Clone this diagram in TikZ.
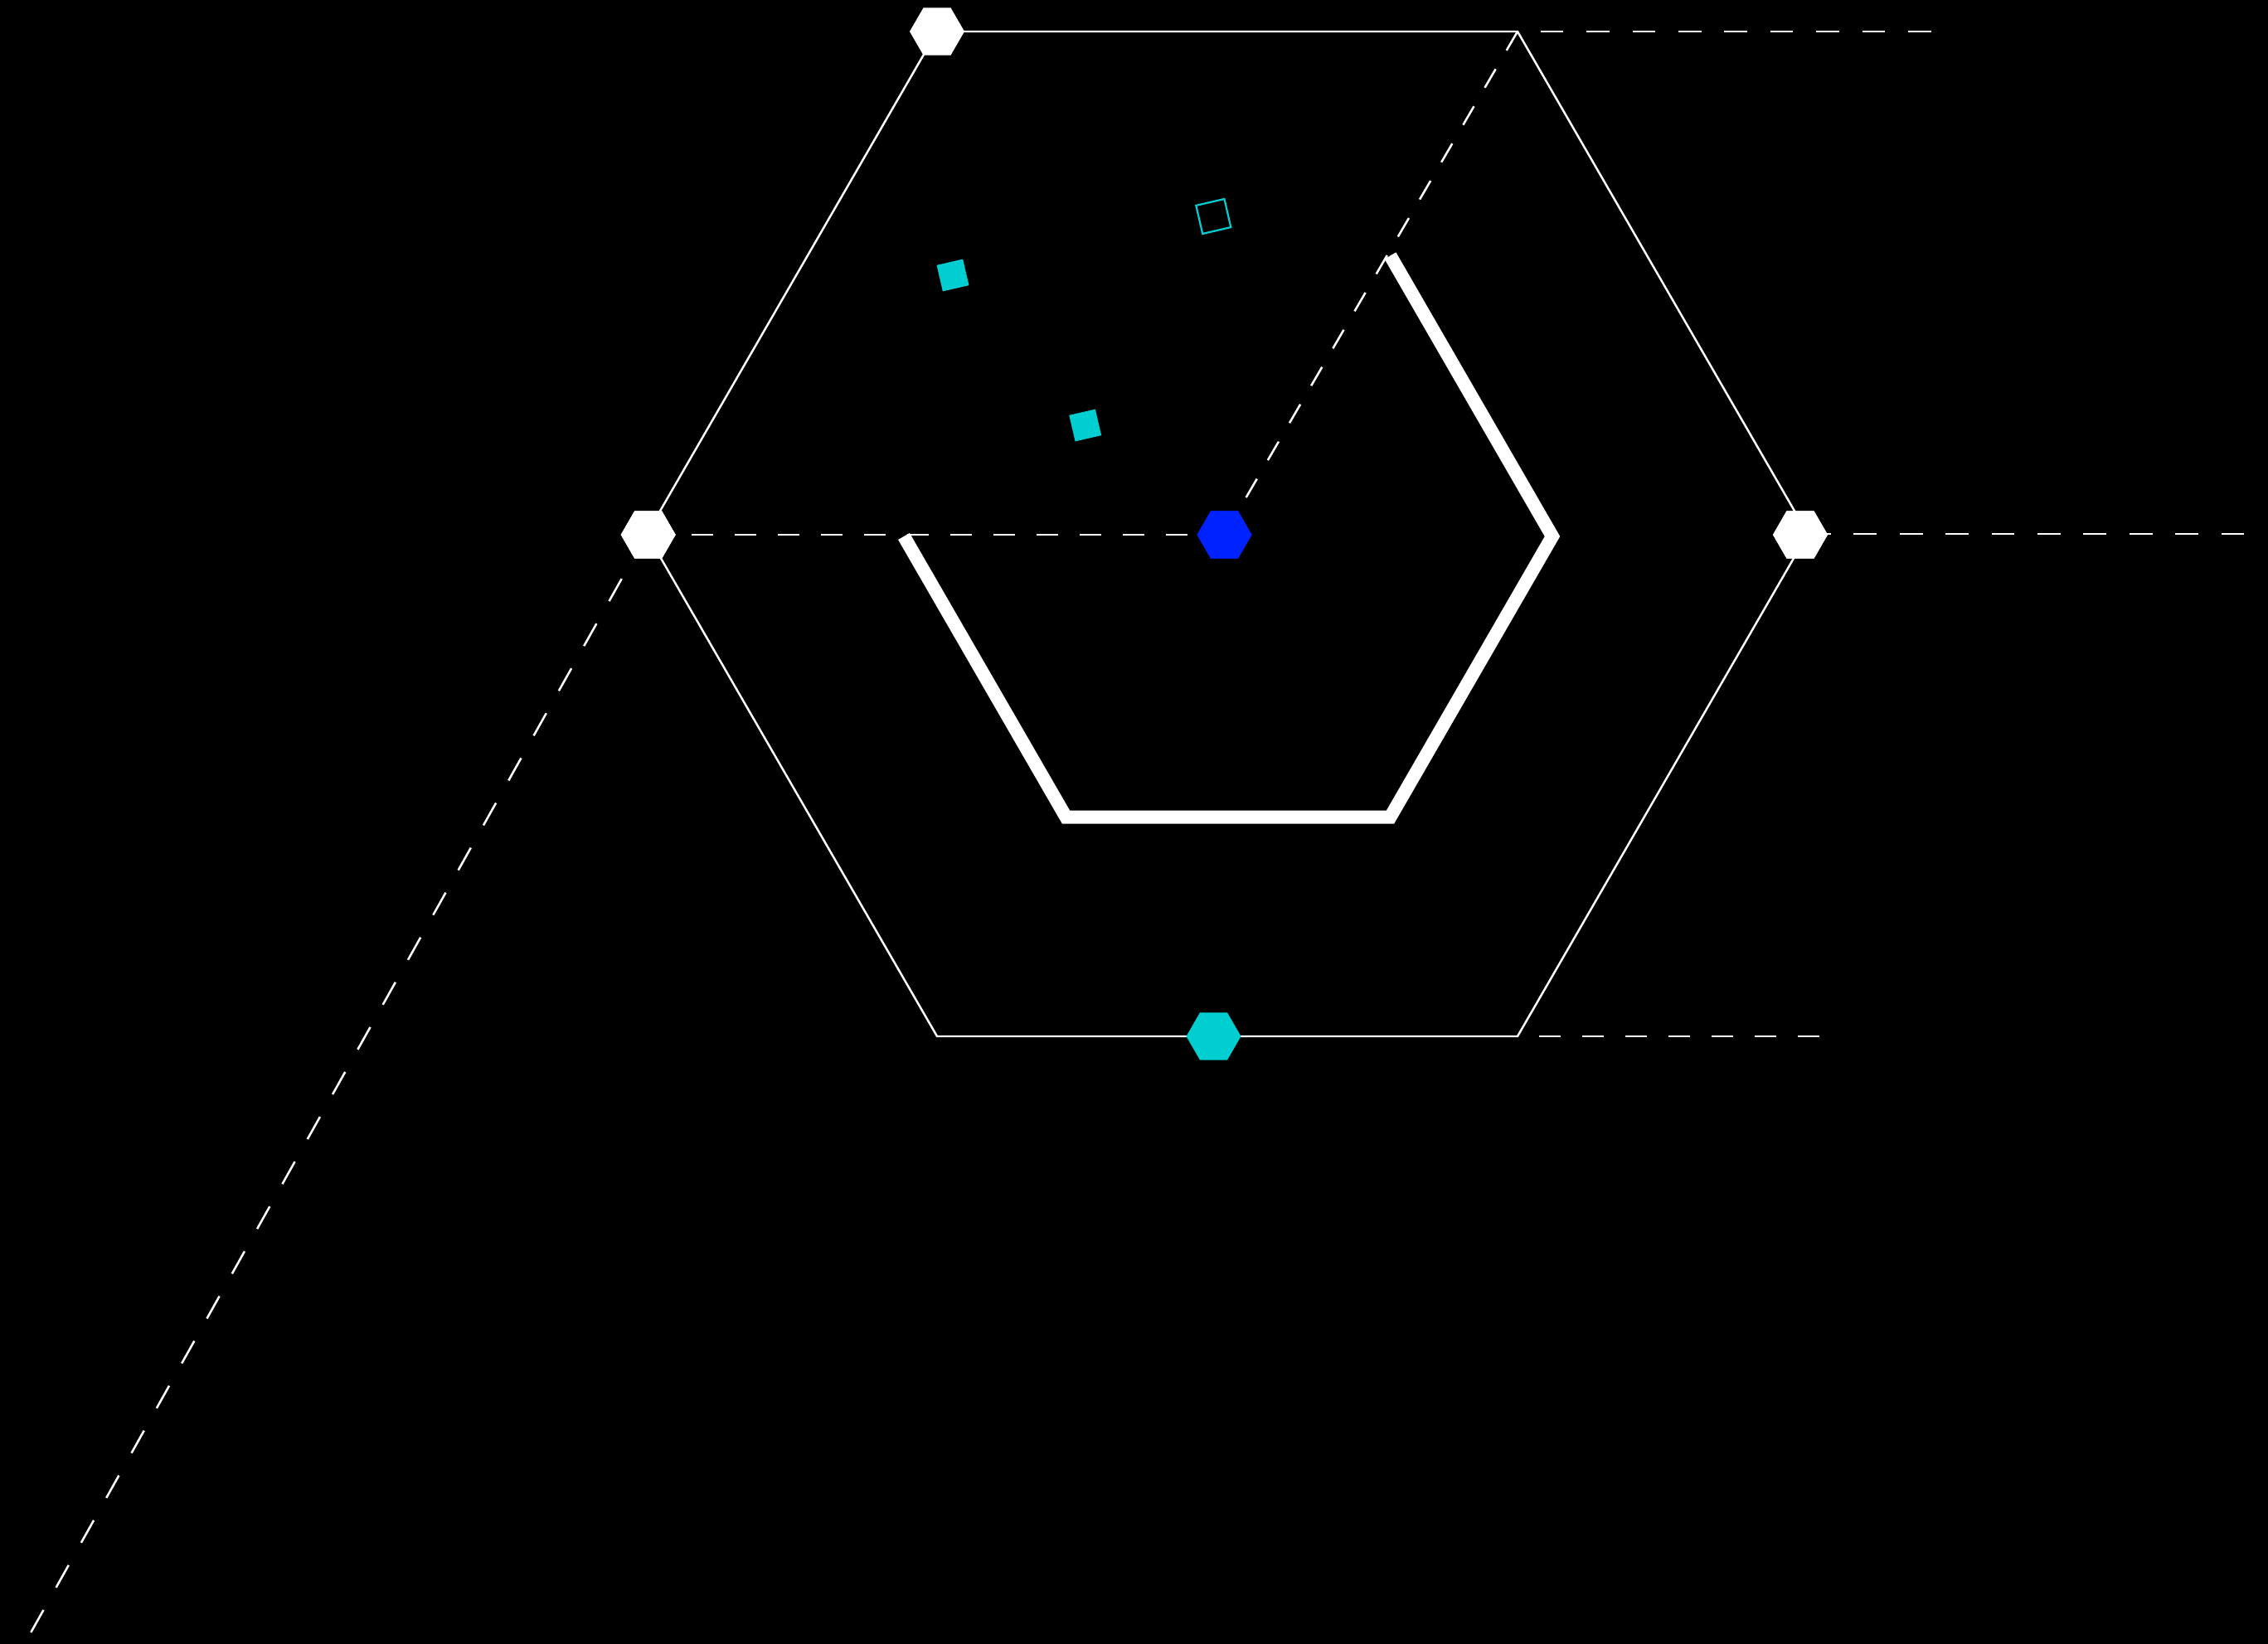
\documentclass[tikz,border=0pt]{standalone}
\usepackage{tikz}
\usetikzlibrary{shapes.geometric}

\definecolor{markblue}{RGB}{0,34,255}
\definecolor{markcyan}{RGB}{0,206,209}

\begin{document}
\begin{tikzpicture}[scale=1.0,
		hexmark/.style={regular polygon, regular polygon sides=6, minimum size=0.66cm, inner sep=0pt, fill=#1},
		hexmark/.default=white,
		sqmark/.style={rectangle, minimum size=0.324cm, inner sep=0pt, rotate=13, fill=markcyan},
		edge/.style={white, line width=0.7pt},
		rim/.style={white, line width=4.55pt},
		guide/.style={white, line width=0.72pt, dash pattern=on #1 off #1},
		guide/.default=0.26cm]
		\useasboundingbox (0, 0) rectangle (27.35, 19.82);
		\fill [black] (-0.2, -0.2) rectangle (27.55, 20.02);
		% outer hexagon, centre (14.80, 13.38), radius 7
		\coordinate (o1) at (21.80, 13.38);
		\coordinate (o2) at (18.30, 19.44);
		\coordinate (o3) at (11.30, 19.44);
		\coordinate (o4) at (7.80, 13.38);
		\coordinate (o5) at (11.30, 7.32);
		\coordinate (o6) at (18.30, 7.32);
		\draw [edge] (o1) -- (o2) -- (o3) -- (o4) -- (o5) -- (o6) -- cycle;
		% inner open hexagon, centre (14.81, 13.35), radius 3.91
		\coordinate (i2) at (16.765, 16.736);
		\coordinate (i1) at (18.72, 13.35);
		\coordinate (i6) at (16.765, 9.964);
		\coordinate (i5) at (12.855, 9.964);
		\coordinate (i4) at (10.90, 13.35);
		\draw [rim] (i2) -- (i1) -- (i6) -- (i5) -- (i4);
		% markers
		\node (tl) [hexmark] at (11.30, 19.44) {};
		\node (lm) [hexmark] at (7.817, 13.37) {};
		\node (rm) [hexmark] at (21.71, 13.37) {};
		\node (mid) [hexmark=markblue] at (14.765, 13.37) {};
		\node (low) [hexmark=markcyan] at (14.635, 7.32) {};
		% free ends of the guides
		\coordinate (topend) at (23.29, 19.44);
		\coordinate (rightend) at (27.09, 13.38);
		\coordinate (lowend) at (21.97, 7.32);
		\coordinate (farend) at (0.30, 0);
		% guides
		\draw [guide] (lm.center) -- (mid.center);
		\draw [guide] (mid.center) -- (o2);
		\draw [guide=0.277cm, dash phase=0.277cm] (o2) -- (topend);
		\draw [guide=0.277cm] (o1) -- (rightend);
		\draw [guide, dash phase=0.26cm] (o6) -- (lowend);
		\draw [guide=0.31cm] (o4) -- (farend);
		% markers again on top of the guides
		\node [hexmark] at (lm) {};
		\node [hexmark] at (rm) {};
		\node [hexmark=markblue] at (mid) {};
		% small squares
		\node (sqa) [sqmark] at (11.49, 16.50) {};
		\node (sqb) [sqmark] at (13.087, 14.69) {};
		\node (sqc) [sqmark, fill=none, draw=markcyan, line width=0.63pt, minimum size=0.35cm] at (14.633, 17.21) {};
	\end{tikzpicture}
\end{document}
